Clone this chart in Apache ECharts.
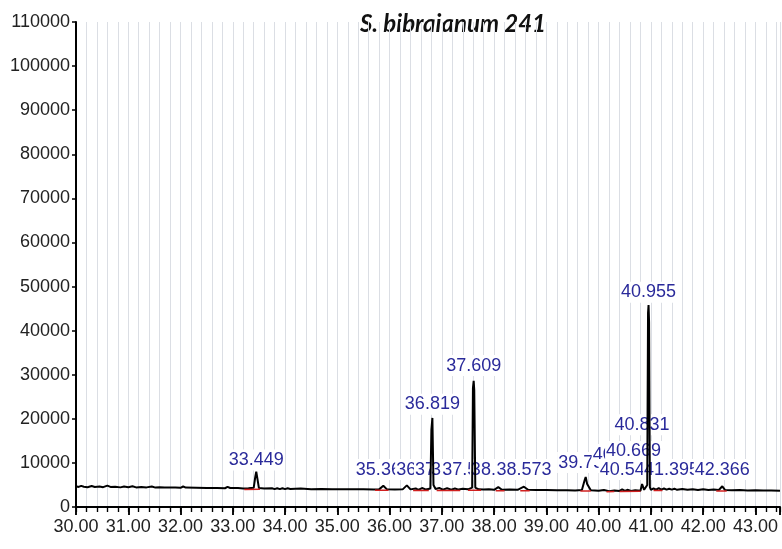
<!DOCTYPE html>
<html><head><meta charset="utf-8">
<script src="https://cdn.jsdelivr.net/npm/echarts@6/dist/echarts.min.js"></script>
<style>html,body{margin:0;padding:0;background:#fff}#c{width:782px;height:549px}</style>
</head><body><div id="c"></div>
<script>
// Chromatogram signal: [retention time (min), abundance]
const signal = [
[30.00,4700],[30.05,4550],[30.10,4800],[30.15,4600],[30.22,4500],[30.30,4750],[30.36,4550],[30.45,4650],[30.52,4500],[30.60,4850],[30.66,4550],[30.75,4600],[30.85,4450],[30.92,4650],[31.00,4500],[31.08,4700],[31.15,4450],[31.25,4550],[31.35,4450],[31.45,4650],[31.52,4400],[31.60,4500],[31.70,4450],[31.80,4400],[31.90,4450],[32.00,4350],[32.05,4650],[32.10,4400],[32.30,4350],[32.50,4300],[32.70,4300],[32.85,4250],[32.90,4550],[32.95,4300],[33.10,4300],[33.20,4200],[33.30,4250],[33.40,4350],[33.43,6800],[33.449,8000],[33.47,6500],[33.50,4300],[33.60,4200],[33.75,4250],[33.80,4050],[33.85,4250],[33.90,4050],[33.95,4250],[34.00,4050],[34.05,4250],[34.10,4100],[34.20,4150],[34.30,4200],[34.50,4050],[34.70,4100],[34.90,4050],[35.10,4050],[35.30,4000],[35.50,4000],[35.70,3950],[35.80,4000],[35.88,4800],[35.95,4000],[36.10,3950],[36.25,4000],[36.33,4900],[36.40,4000],[36.50,4200],[36.55,3900],[36.62,4300],[36.70,3950],[36.78,4200],[36.80,17500],[36.819,20200],[36.84,5000],[36.88,4100],[36.95,4300],[37.02,3950],[37.10,4250],[37.18,3950],[37.25,4200],[37.32,3950],[37.40,4150],[37.50,4000],[37.58,4400],[37.595,27000],[37.609,28600],[37.62,26500],[37.64,4400],[37.70,4000],[37.80,3950],[37.90,4050],[38.00,3900],[38.08,4500],[38.15,3900],[38.30,3950],[38.45,3900],[38.57,4600],[38.65,3900],[38.80,3850],[39.00,3850],[39.20,3800],[39.40,3800],[39.55,3750],[39.68,3850],[39.73,6000],[39.752,6800],[39.78,5200],[39.85,3800],[40.00,3700],[40.10,3850],[40.20,3600],[40.30,3750],[40.40,3650],[40.45,4000],[40.50,3650],[40.55,3900],[40.62,3650],[40.70,3800],[40.80,3700],[40.831,5200],[40.87,3900],[40.93,5000],[40.945,44000],[40.955,45800],[40.965,42000],[40.98,4500],[41.00,3900],[41.05,4200],[41.10,3950],[41.15,4250],[41.20,3950],[41.25,4200],[41.30,3950],[41.35,4150],[41.40,3950],[41.45,4150],[41.50,3900],[41.60,4100],[41.70,3900],[41.80,4050],[41.90,3850],[42.00,4000],[42.10,3850],[42.20,3950],[42.30,3850],[42.366,4700],[42.42,3850],[42.55,3800],[42.70,3850],[42.85,3750],[43.00,3800],[43.15,3750],[43.30,3750],[43.47,3700]
];
// Integration baselines (red): [t start, value start, t end, value end]
const baselines = [
[33.22,3950,33.52,4050],[35.72,3800,35.98,3800],[36.45,3750,36.75,3750],[36.90,3750,37.35,3750],[37.50,3800,37.75,3800],[38.03,3700,38.20,3700],[38.50,3700,38.68,3700],[39.65,3650,39.85,3650],[40.15,3450,40.30,3500],[40.40,3500,40.80,3550],[41.05,3750,41.22,3750],[42.25,3650,42.45,3650]
];
// Peak labels: retention time, text, label anchor value (label bottom)
const peakRT    = [33.449, 35.880, 36.361, 36.652, 36.819, 37.012, 37.318, 37.536, 37.609, 38.082, 38.573, 39.752, 40.412, 40.546, 40.669, 40.831, 40.955, 41.395, 42.366];
const peakText  = ['33.449','35.880','36.361','36.652','36.819','37.012','37.318','37.536','37.609','38.082','38.573','39.752','40.412','40.546','40.669','40.831','40.955','41.395','42.366'];
const peakLabelY= [8300, 6100, 6100, 6100, 20900, 6100, 6100, 6100, 29700, 6100, 6100, 7700, 9500, 6100, 10200, 16300, 46300, 6100, 6100];
const xTicks = [30,31,32,33,34,35,36,37,38,39,40,41,42,43];
const yTicks = [0,10000,20000,30000,40000,50000,60000,70000,80000,90000,100000,110000];

const FONT = "'Liberation Sans',Arial,sans-serif";
const chart = echarts.init(document.getElementById('c'));
const series = [{
  type:'line', data: signal, showSymbol:false, symbol:'none',
  lineStyle:{color:'#000', width:2}
}];
baselines.forEach(b => series.push({
  type:'line', data:[[b[0],b[1]],[b[2],b[3]]], symbol:'none',
  lineStyle:{color:'#d02020', width:1.5}
}));
series.push({
  type:'scatter', symbolSize:0,
  itemStyle:{opacity:1},
  data: peakRT.map((t,i)=>({value:[t, peakLabelY[i]], name:peakText[i]})),
  label:{show:true, position:'top', distance:0, formatter:p=>p.name, opacity:1,
    fontFamily:FONT, fontSize:18, color:'#2a2a9a', backgroundColor:'#fff',
    padding:[1,1,1,1], lineHeight:19}
});
chart.setOption({
  animation:false,
  grid:{left:76, right:2, top:22, bottom:42},
  graphic:[{type:'text', left:360, top:12, style:{text:'S. bibraianum 241',
    font:"italic bold 24px Lato, 'Open Sans', sans-serif", fill:'#111'}}],
  xAxis:[{type:'value', min:30, max:43.47, interval:1,
    axisLine:{show:true, lineStyle:{color:'black', width:2}},
    axisTick:{show:true, length:8, lineStyle:{color:'black', width:1.5}},
    minorTick:{show:true, splitNumber:5, length:5, lineStyle:{color:'black', width:1.2}},
    splitLine:{show:false},
    axisLabel:{margin:11, showMaxLabel:false, fontFamily:FONT, fontSize:18, color:'#222',
      formatter:v=> (xTicks.indexOf(Math.round(v))>=0 && Math.abs(v-Math.round(v))<1e-6) ? v.toFixed(2) : ''}
  },{type:'value', min:30, max:43.47, interval:1, position:'bottom',
    axisLine:{show:false}, axisLabel:{show:false},
    axisTick:{show:true, length:8, lineStyle:{color:'black', width:1.5}}
  },{type:'value', min:30, max:43.47, interval:0.2, position:'bottom',
    axisLine:{show:false}, axisLabel:{show:false},
    axisTick:{show:true, length:5, lineStyle:{color:'black', width:1.2}}
  }],
  yAxis:[{type:'value', min:0, max:110000, interval:10000,
    axisLine:{show:true, lineStyle:{color:'black', width:2}},
    axisTick:{show:true, length:4, lineStyle:{color:'black', width:1.5}},
    splitLine:{show:false},
    axisLabel:{margin:6, fontFamily:FONT, fontSize:18, color:'#222',
      formatter:v=> yTicks.indexOf(v)>=0 ? String(v) : ''}
  },{type:'value', min:0, max:110000, interval:10000, position:'left',
    axisLine:{show:false}, axisLabel:{show:false}, splitLine:{show:false},
    axisTick:{show:true, length:4, lineStyle:{color:'black', width:1.5}}
  }],
  series: series
});
</script></body></html>
